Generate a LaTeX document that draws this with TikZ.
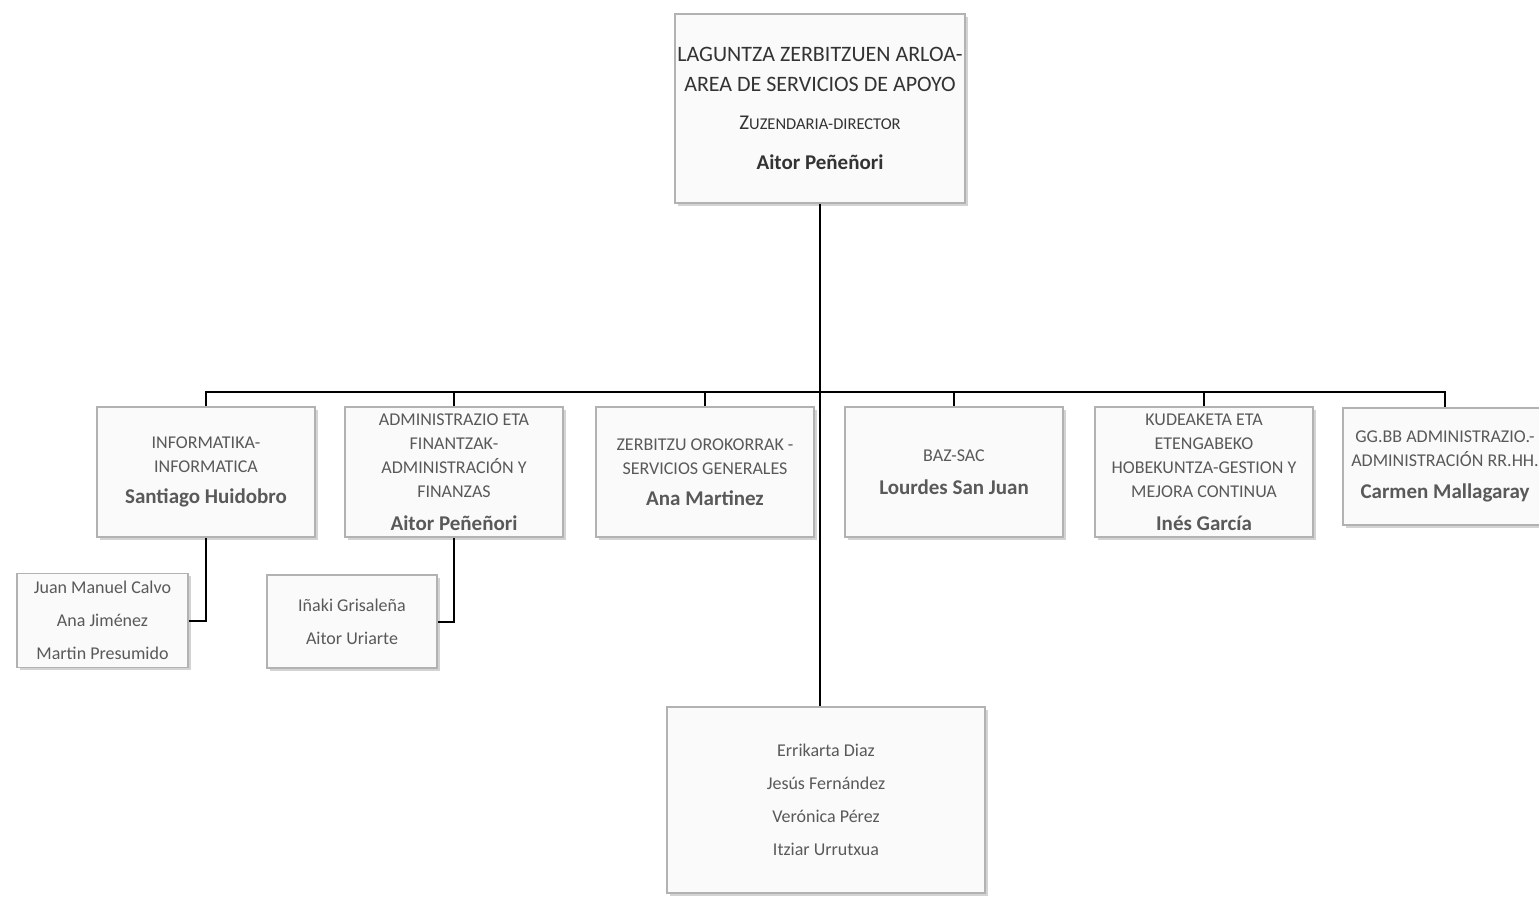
\documentclass[tikz,border=0pt]{standalone}
\usepackage{fontspec}
\setmainfont{Carlito}
\usepackage{tikz}
\usetikzlibrary{positioning,shadows}
\usepackage{xcolor}

\newcommand{\persona}[1]{{\fontsize{21}{24}\selectfont\bfseries #1}}

\begin{document}
\begin{tikzpicture}[x=1pt,y=-1pt,
  unit/.style={
    rectangle, draw=gray!60, line width=1.2pt, fill=gray!4,
    inner sep=0pt, align=center, text=black!65,
    font=\fontsize{18}{24}\selectfont,
    minimum width=218pt, minimum height=130pt,
    drop shadow={shadow xshift=2.5pt, shadow yshift=-2.5pt, opacity=.35}
  },
  team/.style={
    unit, minimum width=171pt, minimum height=94pt,
    font=\fontsize{18}{33}\selectfont
  },
  conn/.style={line width=2pt, black}
]
\useasboundingbox (0,0) rectangle (1539,897);

% Head of the area
\node[unit, minimum width=290pt, minimum height=189pt, text=black!80,
  font=\fontsize{22}{30}\selectfont] (head) at (820,108.5) {
  LAGUNTZA ZERBITZUEN ARLOA-\\
  AREA DE SERVICIOS DE APOYO\\[8pt]
  {\fontsize{21}{20}\selectfont Z{\fontsize{16.5}{20}\selectfont UZENDARIA-DIRECTOR}}\\[10pt]
  \persona{Aitor Peñeñori}
};

% Units
\node[unit] (informatika) at (206,472) {
  INFORMATIKA-\\ INFORMATICA\\[7pt] \persona{Santiago Huidobro}};
\node[unit] (finantzak) at (454,472) {
  ADMINISTRAZIO ETA\\ FINANTZAK-\\ ADMINISTRACIÓN Y\\ FINANZAS\\[9pt]
  \persona{Aitor Peñeñori}};
\node[unit] (orokorrak) at (705,472) {
  ZERBITZU OROKORRAK -\\ SERVICIOS GENERALES\\[7pt] \persona{Ana Martinez}};
\node[unit] (bazsac) at (954,472) {
  BAZ-SAC\\[9pt] \persona{Lourdes San Juan}};
\node[unit] (kudeaketa) at (1204,472) {
  KUDEAKETA ETA\\ ETENGABEKO\\ HOBEKUNTZA-GESTION Y\\ MEJORA CONTINUA\\[9pt]
  \persona{Inés García}};
\node[unit, minimum width=204pt, minimum height=117pt] (rrhh) at (1445,466.5) {
  GG.BB ADMINISTRAZIO.-\\ ADMINISTRACIÓN RR.HH.\\[8pt]
  \persona{Carmen Mallagaray}};

% Staff boxes
\node[team] (teaminfo) at (102.5,620.5) {
  Juan Manuel Calvo\\ Ana Jiménez\\ Martin Presumido};
\node[team, minimum width=170pt, minimum height=93pt] (teamfin) at (352,621.5) {
  Iñaki Grisaleña\\ Aitor Uriarte};
\node[team, minimum width=318pt, minimum height=186pt] (staff) at (826,800) {
  Errikarta Diaz\\ Jesús Fernández\\ Verónica Pérez\\ Itziar Urrutxua};

% Connectors
\coordinate (bus) at (820,392);
\draw[conn] (head.south) -- (bus);
\foreach \u in {informatika,finantzak,orokorrak,bazsac,kudeaketa,rrhh}
  \draw[conn] (bus) -| (\u.north);
\draw[conn] (bus) -- (bus |- staff.north);
\draw[conn] (informatika.south) |- (teaminfo.east);
\draw[conn] (finantzak.south) |- (teamfin.east);

\end{tikzpicture}
\end{document}
